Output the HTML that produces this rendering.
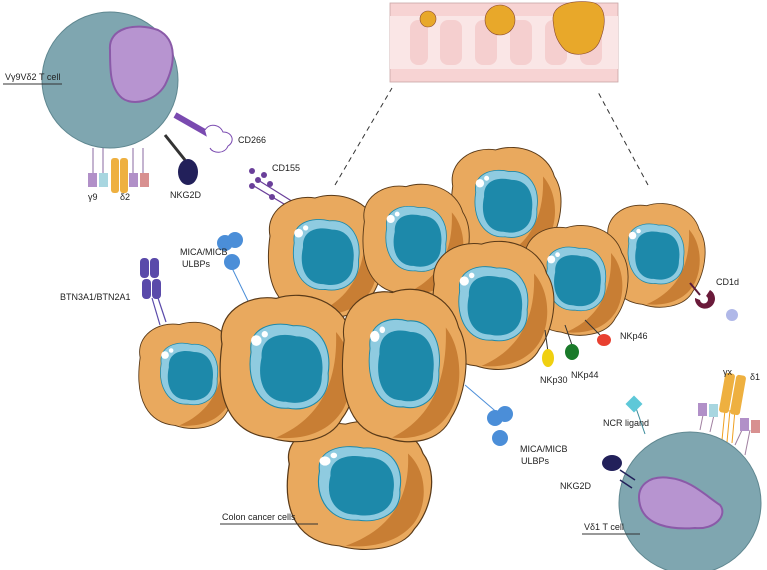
<!DOCTYPE html>
<html><head><meta charset="utf-8"><style>
html,body{margin:0;padding:0;background:#fff;width:767px;height:570px;overflow:hidden}
text{font-family:"Liberation Sans",sans-serif;font-size:9px;fill:#222}
</style></head><body>
<svg width="767" height="570" viewBox="0 0 767 570" xmlns="http://www.w3.org/2000/svg">
<defs>
<g id="cell">
<path d="M-55,-20 C-60,-45 -35,-62 -10,-58 C15,-66 45,-55 52,-30 C65,-10 58,25 45,42 C35,62 5,65 -15,58 C-45,55 -62,30 -55,-20Z" fill="#e9a95e" stroke="#5a3a18" stroke-width="1"/>
<path d="M40,-30 C58,-10 55,25 42,40 C30,55 10,60 -10,58 C20,45 42,20 40,-30Z" fill="#c87e34"/>
<g transform="scale(0.88)">
<path d="M-35,-15 C-38,-38 -15,-45 5,-40 C30,-42 42,-20 38,5 C40,30 20,42 0,38 C-25,40 -40,15 -35,-15Z" fill="#8fcbe0" stroke="#1d89aa"/>
<path d="M-25,-10 C-26,-30 -8,-34 8,-30 C28,-30 35,-12 32,8 C32,28 15,36 -2,32 C-22,32 -30,12 -25,-10Z" fill="#1d89aa"/>
<circle cx="-30" cy="-26" r="5" fill="#fff"/><circle cx="-22" cy="-32" r="3" fill="#fff"/>
</g>
</g>
</defs>

<!-- colon -->
<rect x="390" y="3" width="228" height="79" fill="#f7d3d3" stroke="#c9a6a6" stroke-width="0.8"/>
<rect x="390" y="16" width="228" height="53" fill="#fae6e6"/>
<g fill="#f5cfcf">
<rect x="410" y="20" width="18" height="45" rx="8"/><rect x="440" y="20" width="22" height="45" rx="8"/>
<rect x="475" y="20" width="22" height="45" rx="8"/><rect x="510" y="20" width="22" height="45" rx="8"/>
<rect x="545" y="20" width="22" height="45" rx="8"/><rect x="580" y="20" width="22" height="45" rx="8"/>
</g>
<circle cx="428" cy="19" r="8" fill="#e8a82a" stroke="#8a4a30" stroke-width="0.6"/>
<circle cx="500" cy="20" r="15" fill="#e8a82a" stroke="#8a4a30" stroke-width="0.6"/>
<path d="M553,20 C552,5 570,0 590,2 C608,4 606,25 600,40 C595,55 575,58 565,50 C555,40 554,30 553,20Z" fill="#e8a82a" stroke="#8a4a30" stroke-width="0.6"/>

<line x1="335" y1="185" x2="392" y2="88" stroke="#333" stroke-dasharray="5,4"/>
<line x1="648" y1="185" x2="598" y2="92" stroke="#333" stroke-dasharray="5,4"/>

<!-- receptors left -->
<line x1="298" y1="205" x2="258" y2="180" stroke="#6a3f9a" stroke-width="1.2"/>
<line x1="294" y1="210" x2="254" y2="186" stroke="#6a3f9a" stroke-width="1.2"/>
<g fill="#6a3f9a"><circle cx="252" cy="171" r="3"/><circle cx="264" cy="175" r="3"/><circle cx="258" cy="180" r="3"/><circle cx="270" cy="184" r="3"/><circle cx="252" cy="186" r="3"/><circle cx="272" cy="197" r="3"/></g>
<g fill="#5a4aaa"><rect x="140" y="258" width="9" height="20" rx="4"/><rect x="150" y="258" width="9" height="20" rx="4"/><rect x="142" y="279" width="9" height="20" rx="4"/><rect x="152" y="279" width="9" height="20" rx="4"/></g>
<line x1="152" y1="298" x2="160" y2="325" stroke="#5a4aaa" stroke-width="1.2"/><line x1="158" y1="298" x2="166" y2="322" stroke="#5a4aaa" stroke-width="1.2"/>
<g fill="#4b8ed8"><circle cx="225" cy="243" r="8"/><circle cx="235" cy="240" r="8"/><circle cx="232" cy="262" r="8"/></g>
<line x1="232" y1="268" x2="250" y2="305" stroke="#4b8ed8"/>

<!-- T cell top-left -->
<circle cx="110" cy="80" r="68" fill="#7fa6b0" stroke="#5f8790" stroke-width="1"/>
<path d="M110,50 C108,28 135,22 158,30 C178,40 175,65 165,85 C155,102 132,106 122,98 C110,88 110,70 110,50Z" fill="#b794d0" stroke="#8a5aa8" stroke-width="2"/>
<g stroke="#8a6aa0" stroke-width="1"><line x1="93" y1="148" x2="93" y2="175"/><line x1="103" y1="148" x2="103" y2="175"/><line x1="133" y1="148" x2="133" y2="175"/><line x1="143" y1="148" x2="143" y2="175"/></g>
<rect x="88" y="173" width="9" height="14" fill="#b190c8"/><rect x="99" y="173" width="9" height="14" fill="#a8d6e0"/>
<rect x="129" y="173" width="9" height="14" fill="#b190c8"/><rect x="140" y="173" width="9" height="14" fill="#d89090"/>
<rect x="111" y="158" width="8" height="35" rx="3" fill="#eeb040"/><rect x="120" y="158" width="8" height="35" rx="3" fill="#eeb040"/>
<line x1="165" y1="135" x2="185" y2="160" stroke="#333" stroke-width="3"/>
<ellipse cx="188" cy="172" rx="10" ry="13" fill="#22205a"/>
<path d="M175,115 l35,20" stroke="#7a4ab0" stroke-width="6" fill="none"/>
<path d="M205,130 c5,-8 15,-5 18,2 c10,0 12,10 5,14 c-3,8 -15,8 -18,2" fill="#fff" stroke="#7a4ab0"/>
<text x="5" y="80">Vγ9Vδ2 T cell</text><line x1="3" y1="84" x2="62" y2="84" stroke="#333"/>
<text x="238" y="143">CD266</text>
<text x="272" y="171">CD155</text>
<text x="88" y="200">γ9</text><text x="120" y="200">δ2</text>
<text x="170" y="198">NKG2D</text>
<text x="180" y="255">MICA/MICB</text><text x="182" y="267">ULBPs</text>
<text x="60" y="300">BTN3A1/BTN2A1</text>

<!-- cancer cells -->
<use href="#cell" transform="translate(655,255) scale(0.85)"/>
<use href="#cell" transform="translate(505,205) scale(0.95)"/>
<use href="#cell" transform="translate(325,256) scale(1.0)"/>
<use href="#cell" transform="translate(415,240) scale(0.92)"/>
<use href="#cell" transform="translate(575,280) scale(0.9)"/>
<use href="#cell" transform="translate(492,305) scale(1.05)"/>
<use href="#cell" transform="translate(358,485) scale(1.25,1.05)"/>
<use href="#cell" transform="translate(188,375) scale(0.87)"/>
<use href="#cell" transform="translate(288,368) scale(1.2)"/>
<use href="#cell" transform="translate(403,365) scale(1.07,1.25)"/>

<!-- right receptors -->
<line x1="465" y1="385" x2="500" y2="415" stroke="#4b8ed8"/>
<g fill="#4b8ed8"><circle cx="495" cy="418" r="8"/><circle cx="505" cy="414" r="8"/><circle cx="500" cy="438" r="8"/></g>
<line x1="545" y1="330" x2="548" y2="352" stroke="#333"/><ellipse cx="548" cy="358" rx="6" ry="9" fill="#f0d010"/>
<line x1="565" y1="325" x2="572" y2="345" stroke="#333"/><ellipse cx="572" cy="352" rx="7" ry="8" fill="#1a7a2a"/>
<line x1="585" y1="320" x2="600" y2="335" stroke="#333"/><ellipse cx="604" cy="340" rx="7" ry="6" fill="#e84030"/>
<line x1="690" y1="283" x2="700" y2="295" stroke="#5a1a3a" stroke-width="2"/>
<path d="M695,298 a10,10 0 1 0 15,-8 l-4,6 a4,4 0 1 1 -6,4Z" fill="#6a1a3a"/>
<circle cx="732" cy="315" r="6" fill="#b0b8e8"/>
<text x="716" y="285">CD1d</text>
<text x="620" y="339">NKp46</text>
<text x="540" y="383">NKp30</text><text x="571" y="378">NKp44</text>
<text x="520" y="452">MICA/MICB</text><text x="521" y="464">ULBPs</text>
<text x="222" y="520">Colon cancer cells</text><line x1="220" y1="524" x2="318" y2="524" stroke="#333"/>

<!-- T cell bottom right -->
<line x1="645" y1="434" x2="636" y2="408" stroke="#3a8a9a"/>
<rect x="628" y="398" width="12" height="12" fill="#5ec8d8" transform="rotate(45 634 404)"/>
<g stroke="#a080a0"><line x1="700" y1="430" x2="703" y2="415"/><line x1="710" y1="432" x2="714" y2="415"/><line x1="735" y1="445" x2="742" y2="430"/><line x1="745" y1="455" x2="750" y2="430"/></g>
<rect x="698" y="403" width="9" height="13" fill="#b190c8"/><rect x="709" y="404" width="9" height="13" fill="#a8d6e0"/>
<rect x="740" y="418" width="9" height="13" fill="#b190c8"/><rect x="751" y="420" width="9" height="13" fill="#d89090"/>
<g stroke="#f0a020"><line x1="725" y1="410" x2="722" y2="440"/><line x1="730" y1="410" x2="727" y2="442"/><line x1="735" y1="410" x2="732" y2="443"/></g>
<rect x="722" y="373" width="10" height="40" rx="3" fill="#eeb040" transform="rotate(10 727 393)"/>
<rect x="733" y="375" width="10" height="40" rx="3" fill="#eeb040" transform="rotate(10 738 395)"/>
<circle cx="690" cy="503" r="71" fill="#7fa6b0" stroke="#5f8790"/>
<path d="M640,505 C635,485 650,475 670,478 C690,480 705,495 720,505 C728,515 715,530 695,528 C670,530 645,525 640,505Z" fill="#b794d0" stroke="#8a5aa8" stroke-width="2"/>
<path d="M620,470 l15,10 M620,480 l12,8" stroke="#22205a" stroke-width="1.5"/>
<ellipse cx="612" cy="463" rx="10" ry="8" fill="#22205a"/>
<text x="603" y="426">NCR ligand</text>
<text x="560" y="489">NKG2D</text>
<text x="723" y="375">γx</text><text x="750" y="380">δ1</text>
<text x="584" y="530">Vδ1 T cell</text><line x1="582" y1="534" x2="640" y2="534" stroke="#333"/>
</svg>
</body></html>
